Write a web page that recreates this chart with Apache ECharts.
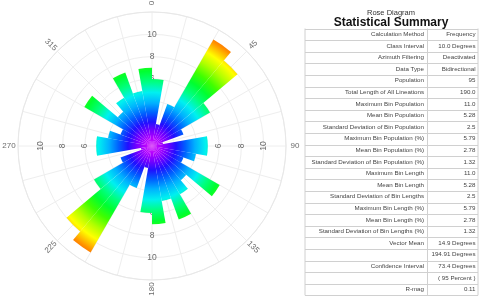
<!DOCTYPE html>
<html><head><meta charset="utf-8">
<script src="https://cdn.jsdelivr.net/npm/echarts@6/dist/echarts.min.js"></script>
<style>html,body{margin:0;padding:0;background:#fff}#c{width:480px;height:299px}</style>
</head><body><div id="c"></div>
<script>
// ---- data ----
const binStarts = ['0','10','20','30','40','50','60','70','80','90','100','110','120','130','140','150','160','170',
                   '180','190','200','210','220','230','240','250','260','270','280','290','300','310','320','330','340','350'];
const binCountsNorthEast = [6,2,4,11,10,6,3,1,5,5,4,3,7,4,5,7,5,7];
const binCountsSouthWest = [6,2,4,11,10,6,3,1,5,5,4,3,7,4,5,7,5,7];
const angleTickLabels = [0,45,90,135,180,225,270,315];
const radiusTickLabels = [6,8,10];
const radiusTickDirections = [0,90,180,270];
const summaryTitle = 'Rose Diagram';
const summaryHeading = 'Statistical Summary';
const statNames = ['Calculation Method','Class Interval','Azimuth Filtering','Data Type','Population',
  'Total Length of All Lineations','Maximum Bin Population','Mean Bin Population',
  'Standard Deviation of Bin Population','Maximum Bin Population (%)','Mean Bin Population (%)',
  'Standard Deviation of Bin Population (%)','Maximum Bin Length','Mean Bin Length',
  'Standard Deviation of Bin Lengths','Maximum Bin Length (%)','Mean Bin Length (%)',
  'Standard Deviation of Bin Lengths (%)','Vector Mean','','Confidence Interval','','R-mag'];
const statValues = ['Frequency','10.0 Degrees','Deactivated','Bidirectional','95','190.0','11.0','5.28','2.5',
  '5.79','2.78','1.32','11.0','5.28','2.5','5.79','2.78','1.32','14.9 Degrees','194.91 Degrees',
  '73.4 Degrees','( 95 Percent )','0.11'];

// ---- layout / style ----
const CX = 152, CY = 146, R = 134, RMAX = 12;
const FONT = 'Liberation Sans, Arial, sans-serif';
function norm(r){ r = ((r % 180) + 180) % 180; if (r > 90) r -= 180; return r; }

const binCounts = binCountsNorthEast.concat(binCountsSouthWest);

const gradient = {
  type: 'radial', x: CX, y: CY, r: R, global: true,
  colorStops: [
    {offset: 0.00, color: '#d000ff'},
    {offset: 0.06, color: '#b000ff'},
    {offset: 0.12, color: '#7000ff'},
    {offset: 0.18, color: '#2010ff'},
    {offset: 0.25, color: '#0060ff'},
    {offset: 0.32, color: '#00b0ff'},
    {offset: 0.40, color: '#00f0f0'},
    {offset: 0.48, color: '#00ff80'},
    {offset: 0.56, color: '#00ff30'},
    {offset: 0.64, color: '#40ff00'},
    {offset: 0.73, color: '#b0ff00'},
    {offset: 0.81, color: '#ffff00'},
    {offset: 0.90, color: '#ff9000'},
    {offset: 1.00, color: '#ff3000'}
  ]
};

const radialLabelData = [];
radiusTickDirections.forEach(a => radiusTickLabels.forEach(v => {
  radialLabelData.push({value: [v, a], label: {rotate: norm(-a)}});
}));
const angleLabelData = angleTickLabels.map(a => ({value: [1, a], label: {rotate: norm(90 - a)}}));

// table graphics
const TX0 = 305, TX1 = 427.5, TX2 = 478, TY0 = 28.5, RH = 11.6;
const g = [];
g.push({type:'text', x: 391, y: 12.5, style:{text: summaryTitle, fontSize: 7.5, fontFamily: FONT, fill:'#333', align:'center', verticalAlign:'middle'}});
g.push({type:'text', x: 391, y: 22.5, style:{text: summaryHeading, fontSize: 12, fontWeight:'bold', fontFamily: FONT, fill:'#111', align:'center', verticalAlign:'middle'}});
const nRows = statNames.length;
for (let i = 0; i <= nRows; i++) {
  const y = Math.round(TY0 + i * RH) + 0.5;
  g.push({type:'line', shape:{x1: TX0, y1: y, x2: TX2, y2: y}, style:{stroke:'#d0d0d0', lineWidth: 1}});
}
[TX0, TX1, TX2].forEach(x => {
  g.push({type:'line', shape:{x1: x, y1: TY0, x2: x, y2: TY0 + nRows * RH}, style:{stroke:'#d0d0d0', lineWidth: 1}});
});
statNames.forEach((n, i) => {
  const y = TY0 + (i + 0.5) * RH;
  g.push({type:'text', x: TX1 - 3.5, y: y, style:{text: n, fontSize: 6.2, fontFamily: FONT, fill:'#444', align:'right', verticalAlign:'middle'}});
  g.push({type:'text', x: TX2 - 2.5, y: y, style:{text: statValues[i], fontSize: 6.2, fontFamily: FONT, fill:'#444', align:'right', verticalAlign:'middle'}});
});

const hidden = {axisLine:{show:false}, axisTick:{show:false}, axisLabel:{show:false}, splitLine:{show:false}};

const chart = echarts.init(document.getElementById('c'), null, {renderer:'canvas'});
chart.setOption({
  animation: false,
  backgroundColor: '#fff',
  polar: [
    {center: [CX, CY], radius: R},
    {center: [CX, CY], radius: R},
    {center: [CX, CY], radius: 143}
  ],
  angleAxis: [
    Object.assign({polarIndex: 0, type: 'category', data: binStarts, startAngle: 90, clockwise: true, boundaryGap: true}, hidden),
    {polarIndex: 1, type: 'value', min: 0, max: 360, interval: 15, startAngle: 90, clockwise: true,
     axisLine:{show:true, lineStyle:{color:'#e8e8e8', width:1}}, axisTick:{show:false}, axisLabel:{show:false},
     splitLine:{show:true, lineStyle:{color:'#eeeeee', width:1}}},
    Object.assign({polarIndex: 2, type: 'value', min: 0, max: 360, startAngle: 90, clockwise: true}, hidden)
  ],
  radiusAxis: [
    Object.assign({polarIndex: 0, type: 'value', min: 0, max: RMAX}, hidden),
    {polarIndex: 1, type: 'value', min: 0, max: RMAX, interval: 2,
     axisLine:{show:false}, axisTick:{show:false}, axisLabel:{show:false},
     splitLine:{show:true, lineStyle:{color:'#eeeeee', width:1}}},
    Object.assign({polarIndex: 2, type: 'value', min: 0, max: 1}, hidden)
  ],
  series: [
    {type: 'scatter', coordinateSystem: 'polar', polarIndex: 1, symbolSize: 0, z: 1, silent: true,
     data: radialLabelData,
     label: {show: true, position: 'inside', formatter: p => String(p.value[0]), fontSize: 8.5, fontFamily: FONT, color: '#444'}},
    {type: 'bar', coordinateSystem: 'polar', polarIndex: 0, data: binCounts, barCategoryGap: '0%', z: 3,
     itemStyle: {color: gradient}},
    {type: 'scatter', coordinateSystem: 'polar', polarIndex: 2, symbolSize: 0, z: 4, silent: true,
     data: angleLabelData,
     label: {show: true, position: 'inside', formatter: p => String(p.value[1]), fontSize: 8, fontFamily: FONT, color: '#444'}}
  ],
  graphic: g
});
</script></body></html>
